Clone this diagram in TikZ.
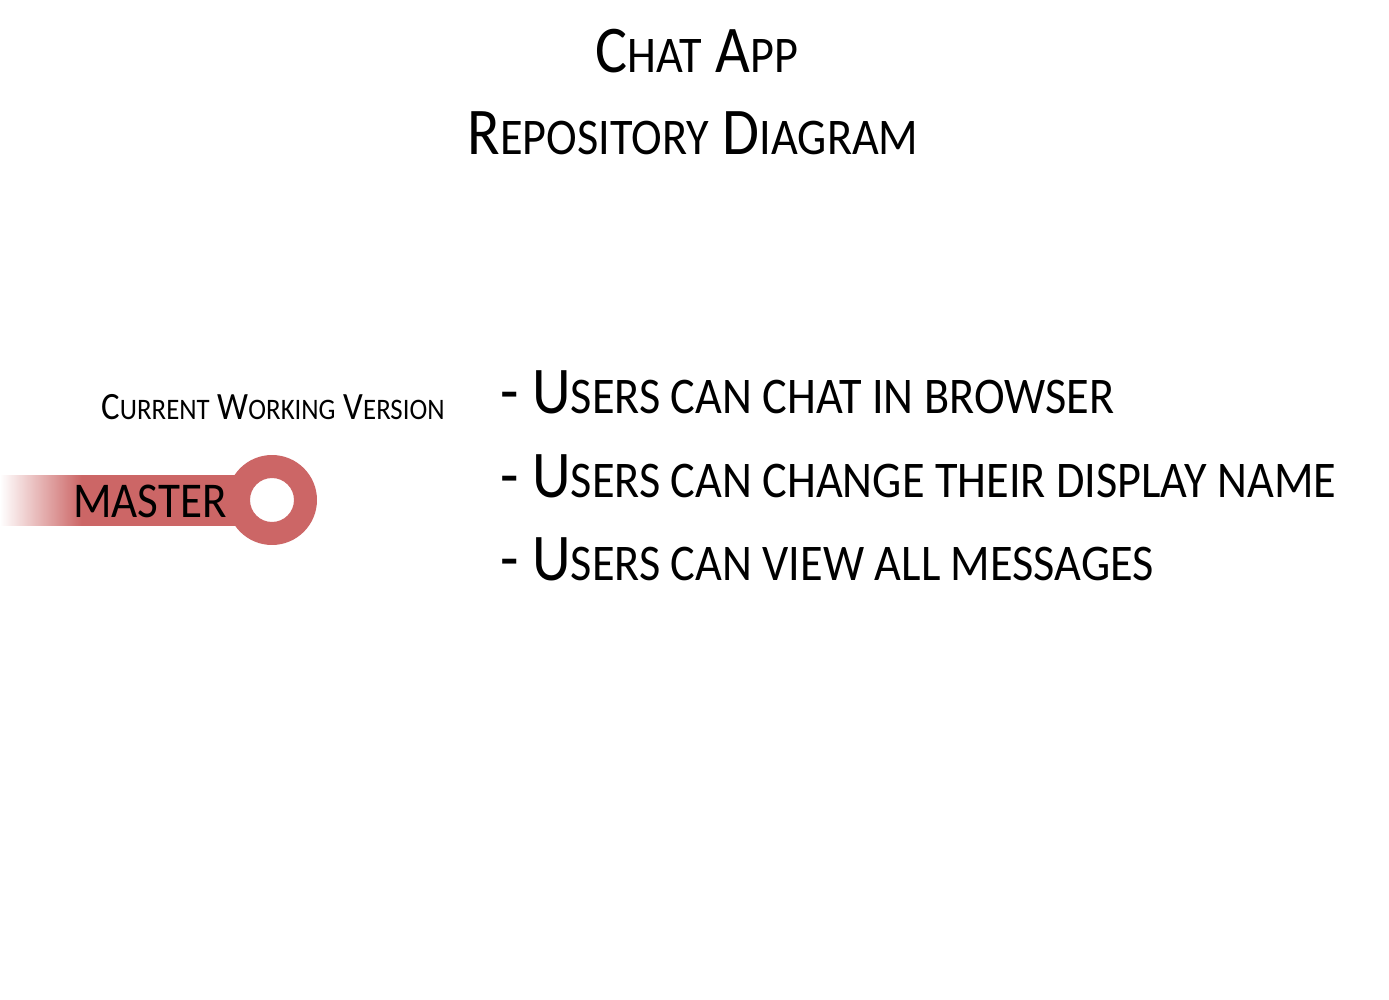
\documentclass[tikz,border=0pt]{standalone}
\usepackage{fontspec}
\setmainfont{Carlito}[FakeStretch=0.9]
\usetikzlibrary{positioning}
\definecolor{branchred}{RGB}{204,102,102}
\pgfdeclarehorizontalshading{branchfade}{100bp}{color(0bp)=(white); color(25bp)=(white); color(42bp)=(branchred); color(100bp)=(branchred)}
\newcommand{\sm}[1]{\scalebox{0.77}{#1}}

\begin{document}
\begin{tikzpicture}[x=0.02cm,y=-0.02cm,
	titletext/.style={anchor=base,inner sep=0pt,font=\fontsize{38}{40}\selectfont},
	featuretext/.style={anchor=base west,inner sep=0pt,font=\fontsize{38}{40}\selectfont}]
	\useasboundingbox[fill=white] (0,0) rectangle (1389,1000);
	% title
	\node (title) [titletext] at (697,73) {C\sm{HAT} A\sm{PP}};
	\node (subtitle) [titletext] at (693,155) {R\sm{EPOSITORY} D\sm{IAGRAM}};
	% master branch
	\shade [shading=branchfade] (0,475) rectangle (240,525);
	\coordinate (commit) at (272,500);
	\fill [branchred,even odd rule] (commit) circle (0.9cm) circle (0.44cm);
	\node (master) [anchor=base east,inner sep=0pt,font=\fontsize{28.5}{30}\selectfont] at (227,517) {MASTER};
	\node (version) [anchor=base,inner sep=0pt,font=\fontsize{22}{24}\selectfont] at (273,419) {C\sm{URRENT} W\sm{ORKING} V\sm{ERSION}};
	% features
	\node (feat1) [featuretext] at (500,413) {- U\sm{SERS CAN CHAT IN BROWSER}};
	\node (feat2) [featuretext] at (500,497) {- U\sm{SERS CAN CHANGE THEIR DISPLAY NAME}};
	\node (feat3) [featuretext] at (500,580) {- U\sm{SERS CAN VIEW ALL MESSAGES}};
\end{tikzpicture}
\end{document}
